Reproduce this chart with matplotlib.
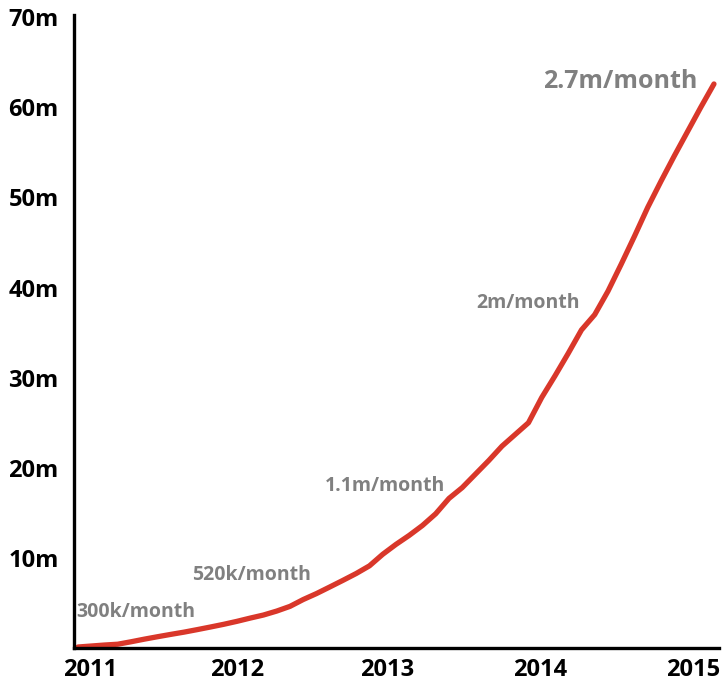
import matplotlib
matplotlib.use("Agg")
import matplotlib.pyplot as plt

# Monthly cumulative totals (millions), Jan 2011 .. Jan 2015
values = [0.11, 0.22, 0.33, 0.42, 0.69, 0.98, 1.25, 1.51, 1.76, 2.04, 2.33, 2.63,
          2.96, 3.32, 3.66, 4.1, 4.62, 5.38, 6.04, 6.77, 7.51, 8.27, 9.12, 10.4,
          11.5, 12.5, 13.6, 14.9, 16.6, 17.8, 19.3, 20.8, 22.4, 23.7, 25.0, 27.8,
          30.2, 32.7, 35.3, 37.0, 39.6, 42.6, 45.7, 48.9, 51.8, 54.6, 57.3, 60.0, 62.6]
months = list(range(len(values)))

year_labels = ["2011", "2012", "2013", "2014", "2015"]
year_tick_pos = [0.94, 12.0, 23.3, 34.9, 46.4]
y_ticks = [10, 20, 30, 40, 50, 60, 70]
y_tick_labels = ["10m", "20m", "30m", "40m", "50m", "60m", "70m"]

ann_texts = ["300k/month", "520k/month", "1.1m/month", "2m/month", "2.7m/month"]
ann_x = [-0.15, 8.6, 18.64, 30.04, 35.1]
ann_y = [4.0, 8.1, 18.0, 38.3, 62.9]
ann_sizes = [14, 14, 14, 14, 18]

FONT = "Open Sans"

fig = plt.figure(figsize=(7.24, 6.87), dpi=100)
ax = fig.add_axes([74/724, 1-648/687, (719-74)/724, (648-17.3)/687])

ax.plot(months, values, color="#D9372A", lw=3.8, solid_capstyle="round",
        solid_joinstyle="round")

ax.set_xlim(-0.3, 48.38)
ax.set_ylim(0, 70)

ax.set_xticks(year_tick_pos)
ax.set_xticklabels(year_labels, fontsize=17, fontweight="bold", family=FONT)
ax.set_yticks(y_ticks)
ax.set_yticklabels(y_tick_labels, fontsize=17, fontweight="bold", family=FONT)
ax.tick_params(axis="both", length=0)
ax.tick_params(axis="y", pad=11)
ax.tick_params(axis="x", pad=7)

for s in ["top", "right"]:
    ax.spines[s].set_visible(False)
for s in ["left", "bottom"]:
    ax.spines[s].set_linewidth(2.4)
    ax.spines[s].set_color("black")
ax.spines["left"].set_bounds(0, 70.2)

for t, x, y, fs in zip(ann_texts, ann_x, ann_y, ann_sizes):
    ax.text(x, y, t, ha="left", va="center", fontsize=fs, fontweight="bold",
            color="#808080", family=FONT)

fig.savefig("out.png", dpi=100)
